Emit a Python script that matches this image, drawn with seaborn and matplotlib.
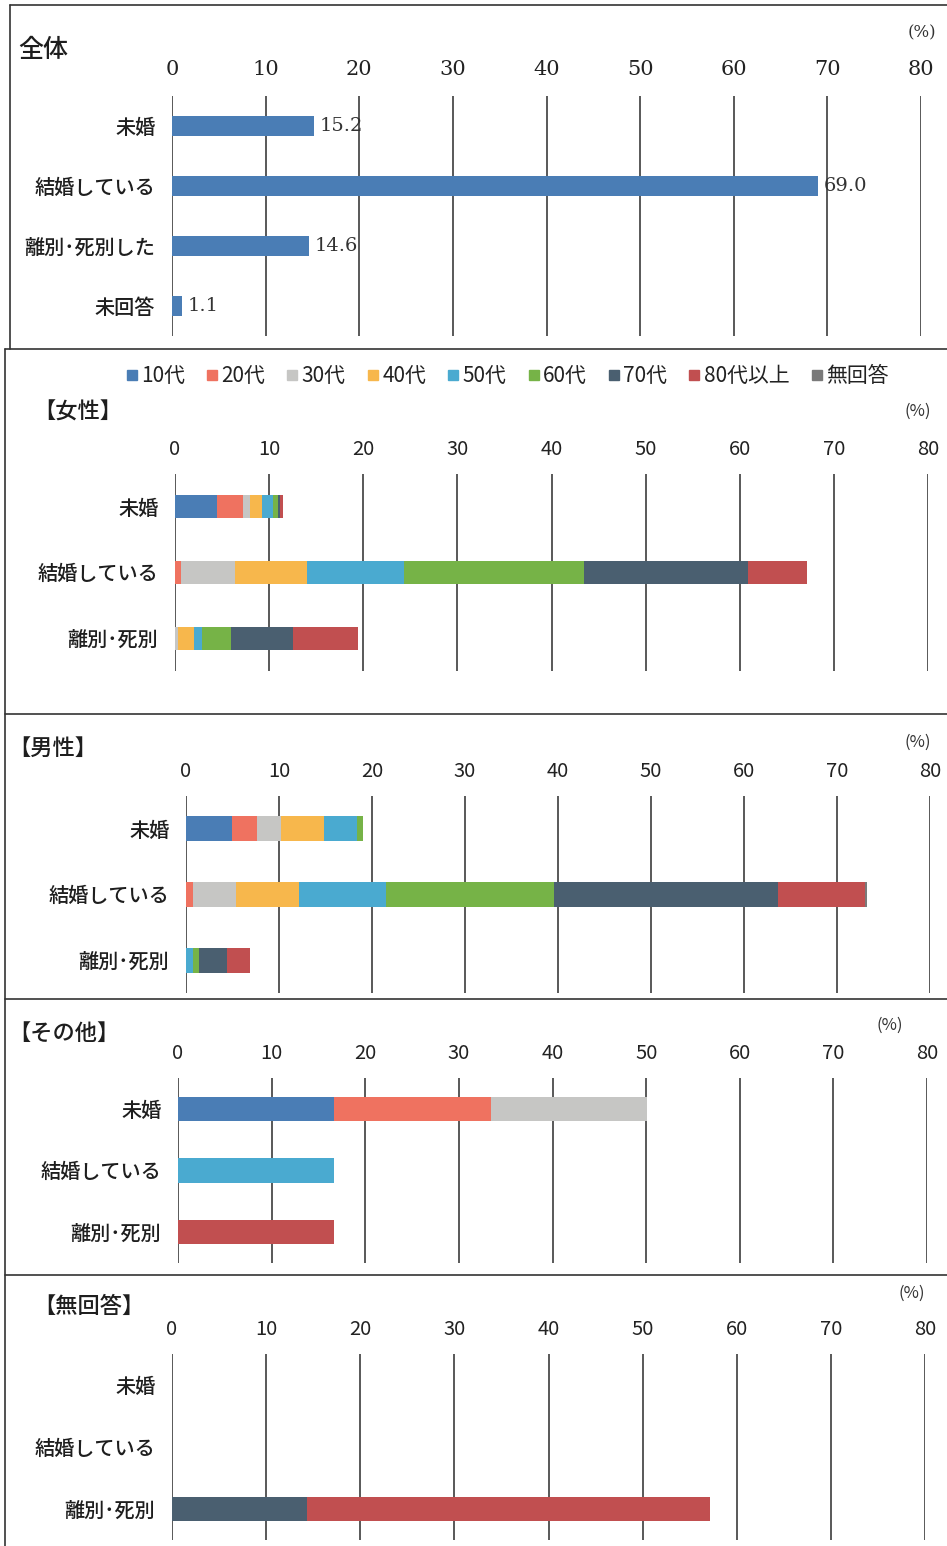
import numpy as np
import pandas as pd
import seaborn as sns
import matplotlib.pyplot as plt
from matplotlib.lines import Line2D

sns.set_theme(style='white')
plt.rcParams['font.family'] = ['Noto Sans CJK JP', 'DejaVu Sans']

W, H = 947, 1546

# --- data ---
total_cats = ['未婚', '結婚している', '離別･死別した', '未回答']
total_vals = [15.2, 69.0, 14.6, 1.1]

ages = ['10代', '20代', '30代', '40代', '50代', '60代', '70代', '80代以上', '無回答']
age_colors = ['#4a7db5', '#ef7260', '#c6c6c4', '#f7b74c', '#4aaad0',
              '#76b347', '#4a5f70', '#c14f50', '#7a7a7a']

cats = ['未婚', '結婚している', '離別･死別']

female_mikon = [4.5, 2.7, 0.8, 1.2, 1.2, 0.5, 0.3, 0.3, 0.0]
female_kekkon = [0.0, 0.6, 5.8, 7.6, 10.3, 19.2, 17.4, 6.2, 0.0]
female_rishi = [0.0, 0.0, 0.3, 1.7, 0.9, 3.0, 6.6, 6.9, 0.0]

male_mikon = [4.9, 2.7, 2.6, 4.6, 3.6, 0.6, 0.0, 0.0, 0.0]
male_kekkon = [0.0, 0.7, 4.7, 6.8, 9.3, 18.1, 24.1, 9.3, 0.2]
male_rishi = [0.0, 0.0, 0.0, 0.0, 0.7, 0.7, 3.0, 2.5, 0.0]

other_mikon = [16.7, 16.7, 16.7, 0.0, 0.0, 0.0, 0.0, 0.0, 0.0]
other_kekkon = [0.0, 0.0, 0.0, 0.0, 16.7, 0.0, 0.0, 0.0, 0.0]
other_rishi = [0.0, 0.0, 0.0, 0.0, 0.0, 0.0, 0.0, 16.7, 0.0]

na_mikon = [0.0] * 9
na_kekkon = [0.0] * 9
na_rishi = [0.0, 0.0, 0.0, 0.0, 0.0, 0.0, 14.3, 42.9, 0.0]

fig = plt.figure(figsize=(W / 100, H / 100), dpi=100)
fig.patch.set_facecolor('white')

GRID = '#2b2b2b'


def pline(x0, y0, x1, y1, lw=1.2):
    fig.add_artist(Line2D([x0 / W, x1 / W], [1 - y0 / H, 1 - y1 / H],
                          transform=fig.transFigure, color='#333333', lw=lw))


def make_ax(left, right80, top, bottom):
    ax = fig.add_axes([left / W, 1 - bottom / H, (right80 - left) / W, (bottom - top) / H])
    return ax


def style_ax(ax, n, tick_font, tick_size, pad_top):
    ax.set_xlim(0, 80)
    ax.set_ylim(n - 0.5, -0.5)
    ax.set_xticks(range(0, 81, 10))
    ax.xaxis.tick_top()
    ax.grid(axis='x', color=GRID, lw=1.1)
    ax.grid(axis='y', visible=False)
    ax.set_axisbelow(True)
    for s in ax.spines.values():
        s.set_visible(False)
    ax.tick_params(axis='x', length=0, pad=pad_top, labelsize=tick_size, labelcolor='#222222')
    ax.tick_params(axis='y', length=0, pad=12, labelsize=14.5, labelcolor='#1e1e1e')
    for t in ax.get_xticklabels():
        t.set_fontfamily(tick_font)
    for t in ax.get_yticklabels():
        t.set_fontweight('medium')
    ax.set_xlabel('')
    ax.set_ylabel('')


def stacked(ax, rows, bw):
    df = pd.DataFrame(rows, index=cats, columns=ages)
    cum = df.cumsum(axis=1)
    # draw cumulative bars from the widest down so each segment shows
    for i in range(len(ages) - 1, -1, -1):
        sns.barplot(x=cum[ages[i]].values, y=cats, order=cats, orient='h',
                    color=age_colors[i], width=bw, saturation=1, errorbar=None,
                    linewidth=0, ax=ax)


# --- panel 1: total ---
ax1 = make_ax(172, 921, 96, 336)
sns.barplot(x=total_vals, y=total_cats, order=total_cats, orient='h', color='#4a7db5',
            width=0.33, saturation=1, errorbar=None, linewidth=0, ax=ax1)
style_ax(ax1, 4, 'DejaVu Serif', 15, 12)
ax1.bar_label(ax1.containers[0], fmt='%.1f', padding=4, fontsize=14,
              family='DejaVu Serif', color='#333333')
fig.text(18 / W, 1 - 50 / H, '全体', fontsize=18, va='center', ha='left',
         color='#1e1e1e', fontweight='medium')
fig.text(922 / W, 1 - 33 / H, '(%)', fontsize=12, va='center', ha='center',
         family='DejaVu Serif', color='#333333')

# legend
handles = [Line2D([], [], marker='s', ls='', color=c, markersize=7) for c in age_colors]
fig.legend(handles, ages, loc='center', bbox_to_anchor=(507 / W, 1 - 376 / H),
           ncol=9, frameon=False, fontsize=15, handlelength=0.6, handletextpad=0.15,
           columnspacing=1.0, labelcolor='#222222')

panels = [
    ('【女性】', (33, 412), (918, 411), (175, 928, 474, 671), 450,
     [female_mikon, female_kekkon, female_rishi], 0.35),
    ('【男性】', (8, 748), (918, 742), (186, 930, 796, 993), 773,
     [male_mikon, male_kekkon, male_rishi], 0.38),
    ('【その他】', (8, 1033), (890, 1025), (178, 927, 1078, 1263), 1055,
     [other_mikon, other_kekkon, other_rishi], 0.39),
    ('【無回答】', (33, 1306), (912, 1293), (172, 925, 1354, 1540), 1330,
     [na_mikon, na_kekkon, na_rishi], 0.4),
]

for title, tpos, ppos, box, ticky, rows, bw in panels:
    ax = make_ax(*box)
    stacked(ax, rows, bw)
    style_ax(ax, 3, 'Noto Sans CJK JP', 14.5, 10)
    fig.text(tpos[0] / W, 1 - tpos[1] / H, title, fontsize=16, va='center', ha='left',
             color='#1e1e1e', fontweight='medium')
    fig.text(ppos[0] / W, 1 - ppos[1] / H, '(%)', fontsize=12, va='center', ha='center',
             color='#333333')

# panel frames
pline(10, 5, 947, 5)
pline(10, 5, 10, 349)
pline(5, 349, 947, 349)
pline(5, 349, 5, 1546)
pline(5, 714, 947, 714)
pline(5, 999, 947, 999)
pline(5, 1275, 947, 1275)

fig.savefig('out.png', dpi=100, facecolor='white')
